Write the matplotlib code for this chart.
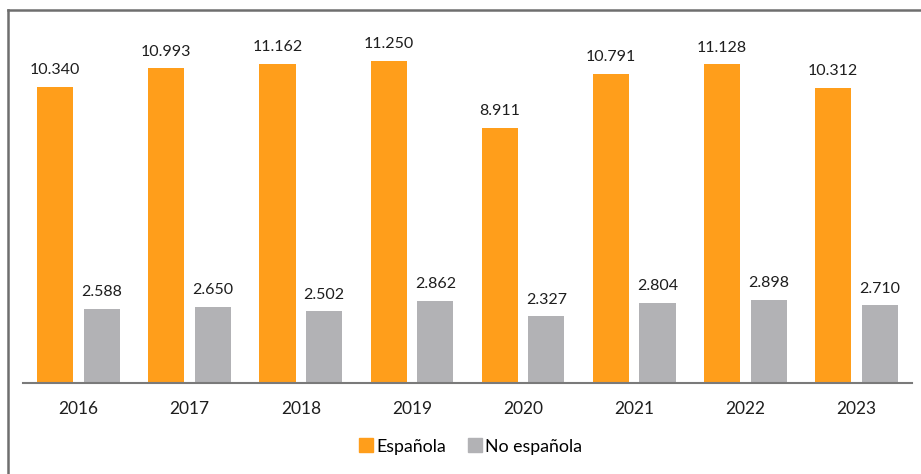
import numpy as np
import matplotlib.pyplot as plt
from matplotlib.lines import Line2D

# Data
years = ['2016', '2017', '2018', '2019', '2020', '2021', '2022', '2023']
espanola = [10340, 10993, 11162, 11250, 8911, 10791, 11128, 10312]
no_espanola = [2588, 2650, 2502, 2862, 2327, 2804, 2898, 2710]

orange = '#FF9E1B'
grey = '#B2B2B5'

plt.rcParams['font.family'] = ['Lato', 'DejaVu Sans']


def fmt(v):
    # thousands separator as a dot (Spanish style)
    return f'{v:,}'.replace(',', '.')


fig = plt.figure(figsize=(9.21, 4.74), dpi=100)
ax = fig.add_axes([0.02497, 0.192, 0.96526, 0.785])

x = np.arange(len(years))
w = 0.325
off = 0.21
b1 = ax.bar(x - off, espanola, w, color=orange, label='Española', zorder=2)
b2 = ax.bar(x + off, no_espanola, w, color=grey, label='No española', zorder=2)

for bars, vals in ((b1, espanola), (b2, no_espanola)):
    for rect, v in zip(bars, vals):
        ax.annotate(fmt(v), (rect.get_x() + rect.get_width() / 2, rect.get_height()),
                    xytext=(0, 7), textcoords='offset points',
                    ha='center', va='bottom', fontsize=11.5, color='#1e1e1e')

ax.set_xlim(-0.5, len(years) - 0.5)
ax.set_ylim(0, 13000)
ax.set_xticks(x)
ax.set_xticklabels(years, fontsize=12.5, color='#1e1e1e')
ax.tick_params(axis='x', length=0, pad=13)
ax.set_yticks([])
for s in ('top', 'right', 'left'):
    ax.spines[s].set_visible(False)
ax.spines['bottom'].set_color('#7a7a7a')
ax.spines['bottom'].set_linewidth(1.5)

handles = [Line2D([], [], marker='s', linestyle='none', markersize=10,
                  markerfacecolor=orange, markeredgecolor=orange),
           Line2D([], [], marker='s', linestyle='none', markersize=10,
                  markerfacecolor=grey, markeredgecolor=grey)]
fig.legend(handles, ['Española', 'No española'], loc='center',
           bbox_to_anchor=(0.51, 0.058), ncol=2, frameon=False,
           fontsize=12.8, handletextpad=0.1, columnspacing=1.1, handlelength=1.0)

# frame lines at top and left of the figure
fig.add_artist(Line2D([8 / 921, 8 / 921], [0, 1 - 10 / 474], transform=fig.transFigure,
                      color='#6e6e6e', linewidth=1.8))
fig.add_artist(Line2D([8 / 921, 1], [1 - 10 / 474, 1 - 10 / 474], transform=fig.transFigure,
                      color='#6e6e6e', linewidth=1.8))

fig.savefig('out.png', dpi=100)
